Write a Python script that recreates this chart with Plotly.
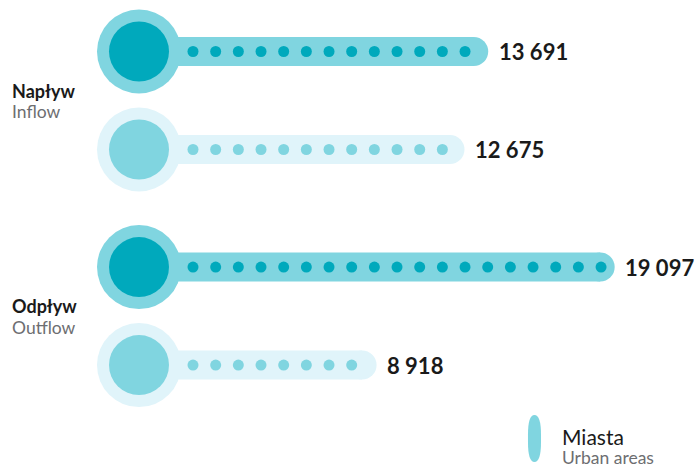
import math
import plotly.graph_objects as go

# ---- data ----
values = [13691, 12675, 19097, 8918]
row_pos = [0.0, 1.0, 2.2, 3.2]
variant = ["dark", "light", "dark", "light"]
value_labels = ["13 691", "12 675", "19 097", "8 918"]
group_titles = ["Napływ", "Odpływ"]
group_subtitles = ["Inflow", "Outflow"]
legend_title = "Miasta"
legend_sub = "Urban areas"
dot_unit = 1000  # one dot per thousand

# ---- styles ----
OUTER = {"dark": "#80d5e0", "light": "#e0f4fa"}
INNER = {"dark": "#00a9bc", "light": "#80d5e0"}
BAR_W = 29
OUTER_D = 84
INNER_D = 60
DOT_D = 11
SCALE = 0.02339        # px per unit
ZERO_PX = 153.5        # pixel position of value 0
CIRCLE_PX = 139        # pixel position of the big circles
CIRCLE_X = (CIRCLE_PX - ZERO_PX) / SCALE
DOT_START = (193 - ZERO_PX) / SCALE
DOT_STEP = 22.67 / SCALE
TXT = "#1a1a1a"
GRAY = "#6d6e71"
FONT = "Lato"

fig = go.Figure()

for v, y, var in zip(values, row_pos, variant):
    # bar body
    fig.add_trace(go.Scatter(x=[CIRCLE_X, v], y=[y, y], mode="lines",
                             line=dict(color=OUTER[var], width=BAR_W),
                             hoverinfo="skip", showlegend=False))
    # rounded end
    fig.add_trace(go.Scatter(x=[v], y=[y], mode="markers",
                             marker=dict(size=BAR_W, color=OUTER[var], line=dict(width=0)),
                             hoverinfo="skip", showlegend=False))
    # big outer circle
    fig.add_trace(go.Scatter(x=[CIRCLE_X], y=[y], mode="markers",
                             marker=dict(size=OUTER_D, color=OUTER[var], line=dict(width=0)),
                             hoverinfo="skip", showlegend=False))
    # inner circle
    fig.add_trace(go.Scatter(x=[CIRCLE_X], y=[y], mode="markers",
                             marker=dict(size=INNER_D, color=INNER[var], line=dict(width=0)),
                             hoverinfo="skip", showlegend=False))
    # dots
    n = int(math.floor(v / dot_unit))
    xs = [DOT_START + k * DOT_STEP for k in range(n)]
    fig.add_trace(go.Scatter(x=xs, y=[y] * n, mode="markers",
                             marker=dict(size=DOT_D, color=INNER[var], line=dict(width=0)),
                             hoverinfo="skip", showlegend=False))

# value labels
for v, y, lab in zip(values, row_pos, value_labels):
    fig.add_annotation(x=v, y=y, text=f"<b>{lab}</b>", showarrow=False,
                       xanchor="left", yanchor="middle", xshift=23,
                       font=dict(family=FONT, size=22, color=TXT))

# group labels
title_y = [1 - 91 / 468, 1 - 306 / 468]
sub_y = [1 - 111 / 468, 1 - 327 / 468]
for t, s, ty, sy in zip(group_titles, group_subtitles, title_y, sub_y):
    fig.add_annotation(xref="paper", yref="paper", x=10 / 697, y=ty, text=f"<b>{t}</b>",
                       showarrow=False, xanchor="left", yanchor="middle",
                       font=dict(family=FONT, size=18, color=TXT))
    fig.add_annotation(xref="paper", yref="paper", x=10 / 697, y=sy, text=s,
                       showarrow=False, xanchor="left", yanchor="middle",
                       font=dict(family=FONT, size=17.5, color=GRAY))

# legend
fig.add_shape(type="path", xref="paper", yref="paper",
              path=("M 0.7575 0.0710 L 0.7575 0.0556 Q 0.7575 0.0128 0.7668 0.0128 "
                    "Q 0.7762 0.0128 0.7762 0.0556 L 0.7762 0.0710 Q 0.7762 0.1132 0.7668 0.1132 "
                    "Q 0.7575 0.1132 0.7575 0.0710 Z"),
              fillcolor=OUTER["dark"], line=dict(width=0), layer="above")
fig.add_annotation(xref="paper", yref="paper", x=560 / 697, y=1 - 436 / 468, text=legend_title,
                   showarrow=False, xanchor="left", yanchor="middle",
                   font=dict(family=FONT, size=21, color=TXT))
fig.add_annotation(xref="paper", yref="paper", x=560 / 697, y=1 - 457 / 468, text=legend_sub,
                   showarrow=False, xanchor="left", yanchor="middle",
                   font=dict(family=FONT, size=17.5, color=GRAY))

X0 = -ZERO_PX / SCALE
X1 = (697 - ZERO_PX) / SCALE
Y_TOP = -51.5 / 98
Y_BOT = (468 - 51.5) / 98

fig.update_layout(
    width=697, height=468,
    margin=dict(l=0, r=0, t=0, b=0),
    paper_bgcolor="white", plot_bgcolor="white",
    xaxis=dict(range=[X0, X1], visible=False, fixedrange=True),
    yaxis=dict(range=[Y_BOT, Y_TOP], visible=False, fixedrange=True),
    showlegend=False,
)

fig.write_html("out.html", config={"displayModeBar": False},
               post_script="document.body.style.margin='0';document.body.style.overflow='hidden';")
